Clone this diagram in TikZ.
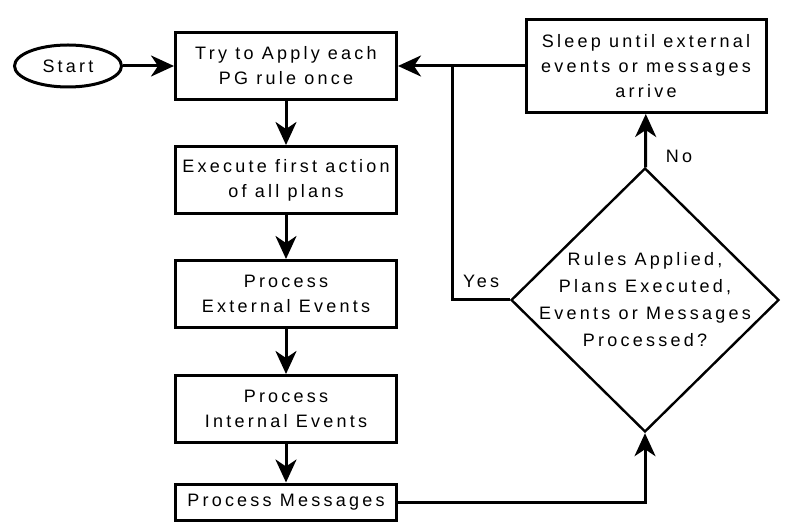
\documentclass[tikz,border=0pt]{standalone}
\usepackage{fontspec}
\setmainfont{Liberation Sans}[LetterSpace=18]
\usetikzlibrary{shapes.geometric}
\usetikzlibrary{positioning}
\usetikzlibrary{arrows.meta}
\usetikzlibrary{calc}

\begin{document}
\begin{tikzpicture}
	[node distance={57pt}, line width=1.5pt,
	 font=\fontsize{9pt}{12.5pt}\selectfont,
	 box/.style = {draw, rectangle, align=center, minimum width=110.5pt, minimum height=33.5pt, inner sep=1pt},
	 term/.style = {draw, ellipse, minimum width=53.5pt, minimum height=21pt},
	 check/.style = {draw, diamond, minimum width=134pt, minimum height=132pt, inner sep=0pt, line width=1.2pt},
	 flow/.style = {-{Stealth[length=11.5pt, width=10.5pt, inset=3.5pt]}}]
	\useasboundingbox (0,0) rectangle (403pt,-264pt);
	% left column
	\node[box] (apply) at (143pt,-33pt) {Try to Apply each\\PG rule once};
	\node[box] (exec) [below of = apply] {Execute first action\\of all plans};
	\node[box] (extev) [below of = exec] {Process\\External Events};
	\node[box] (intev) [below of = extev, node distance={57.5pt}] {Process\\Internal Events};
	\node[box] (msgs) [below of = intev, node distance={46.5pt}, minimum height=18pt] {Process Messages};
	\node[term] (start) [left of = apply, node distance={109pt}] {Start};
	% right column
	\node[box] (sleep) [right of = apply, node distance={180pt}, minimum width=120pt, minimum height=46.5pt] {Sleep until external\\events or messages\\arrive};
	\node[check] (test) at (322.5pt,-150pt) {};
	\node[align=center, font=\fontsize{9pt}{13.5pt}\selectfont] (testtext) at (test) {Rules Applied,\\Plans Executed,\\Events or Messages\\Processed?};
	\coordinate (join) at ($(apply.east)!0.43!(sleep.west)$);
	\draw[flow] (start) -- (apply);
	\draw[flow] (apply) -- (exec);
	\draw[flow] (exec) -- (extev);
	\draw[flow] (extev) -- (intev);
	\draw[flow] (intev) -- (msgs);
	\draw[flow] (msgs) -| (test);
	\draw[flow] (test) -- node[right=6pt, pos=0.2] {No} (sleep);
	\draw[flow] (sleep) -- (apply);
	\draw (test.west) -- node[above=2pt] {Yes} (test.west -| join) -- (join);
\end{tikzpicture}
\end{document}
